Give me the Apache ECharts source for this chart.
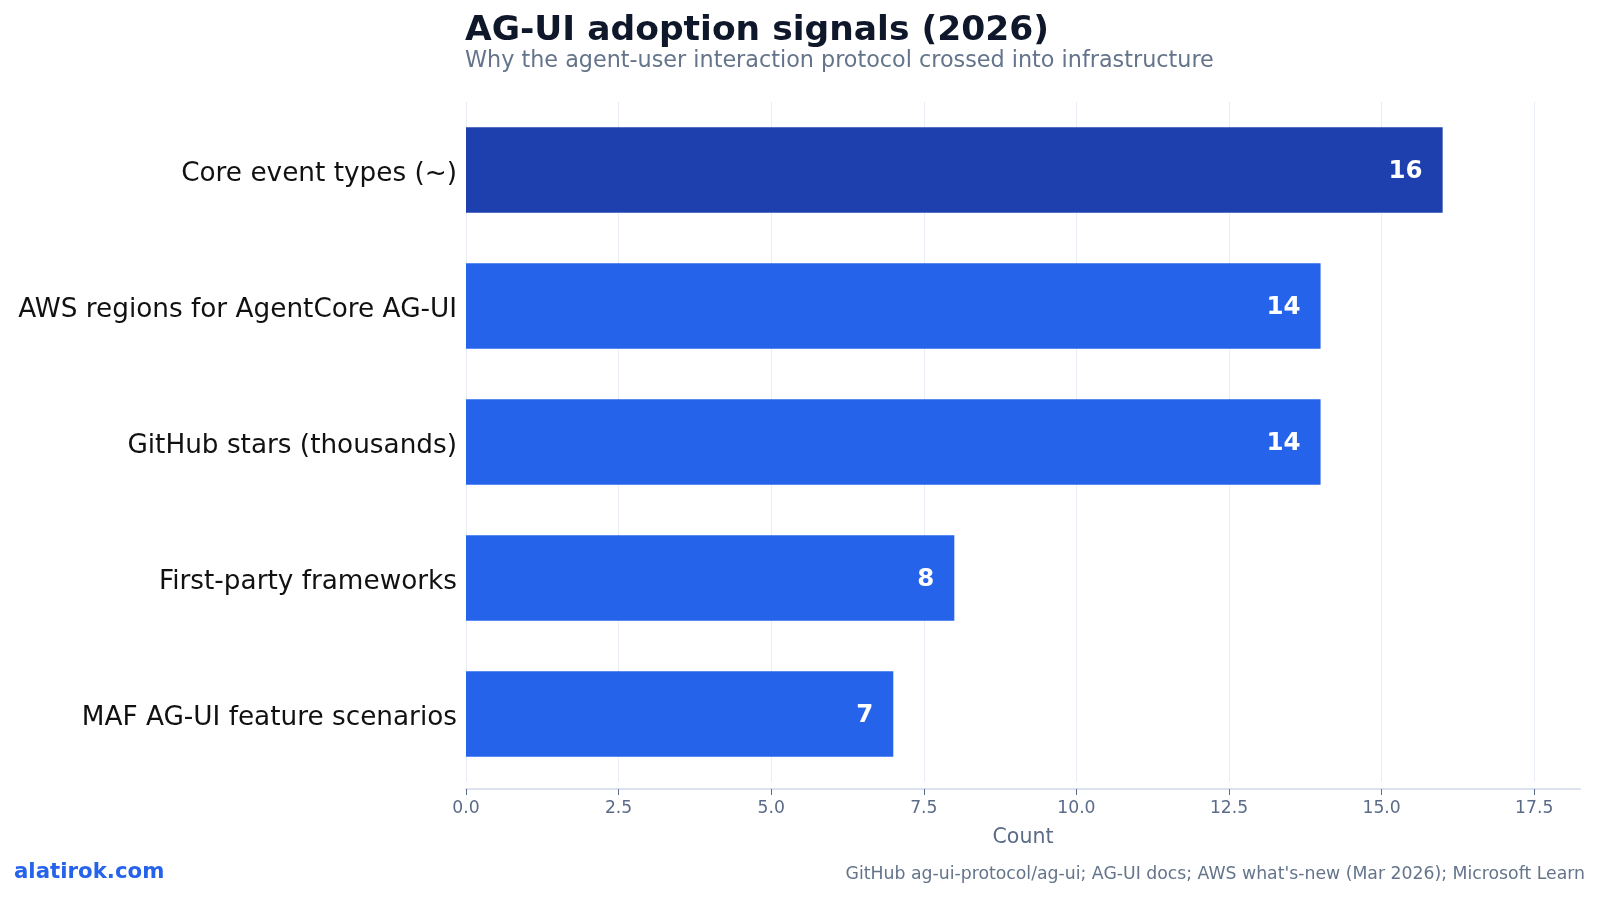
<!DOCTYPE html>
<html>
<head>
<meta charset="utf-8">
<script src="https://cdn.jsdelivr.net/npm/echarts@6/dist/echarts.min.js"></script>
<style>
  html, body { margin: 0; padding: 0; background: #fff; }
  #chart { width: 1600px; height: 899px; }
</style>
</head>
<body>
<div id="chart"></div>
<script>
// data, top to bottom as drawn
const categories = [
  "Core event types (~)",
  "AWS regions for AgentCore AG-UI",
  "GitHub stars (thousands)",
  "First-party frameworks",
  "MAF AG-UI feature scenarios",
];
const counts = [16, 14, 14, 8, 7];
const highlight = [true, false, false, false, false];
const xTicks = [0, 2.5, 5, 7.5, 10, 12.5, 15, 17.5];

const chart = echarts.init(document.getElementById("chart"));
const font = "DejaVu Sans";

chart.setOption({
  animation: false,
  textStyle: { fontFamily: font },
  title: [
    {
      text: "AG-UI adoption signals (2026)",
      left: 460, top: 9,
      textStyle: { fontFamily: font, fontSize: 34.5, fontWeight: "bold", color: "#0f172a" },
    },
    {
      text: "Why the agent-user interaction protocol crossed into infrastructure",
      left: 460, top: 45,
      textStyle: { fontFamily: font, fontSize: 22.3, fontWeight: "normal", color: "#64748b" },
    },
  ],
  graphic: [
    {
      type: "text", left: 14, top: 862,
      style: { text: "alatirok.com", fontFamily: font, fontSize: 21.3, fontWeight: "bold", fill: "#2563eb" },
    },
    {
      type: "text", right: 15, top: 866,
      style: {
        text: "GitHub ag-ui-protocol/ag-ui; AG-UI docs; AWS what's-new (Mar 2026); Microsoft Learn",
        fontFamily: font, fontSize: 17.3, fill: "#64748b",
      },
    },
  ],
  grid: { left: 466, right: 20, top: 102, bottom: 117 },
  xAxis: {
    type: "value",
    min: 0,
    max: 18.25,
    offset: 7,
    name: "Count",
    nameLocation: "middle",
    nameGap: 38,
    nameTextStyle: { fontSize: 20.5, color: "#5b6b88" },
    axisLine: { show: true, lineStyle: { color: "#dde3ec", width: 2 } },
    axisTick: { show: true, length: 6, customValues: xTicks, lineStyle: { color: "#5b6b88" } },
    axisLabel: {
      customValues: xTicks,
      fontSize: 17.2, color: "#5b6b88", margin: 11,
      formatter: (v) => v.toFixed(1),
    },
    splitLine: { show: true, lineStyle: { color: "#e9edf5", width: 1 } },
  },
  yAxis: {
    type: "category",
    data: categories,
    inverse: true,
    axisLine: { show: false },
    axisTick: { show: false },
    axisLabel: {
      margin: 9,
      formatter: (v) => "{c|" + v + "}",
      rich: { c: { fontSize: 26.3, color: "#111111", padding: [8, 0, 0, 0] } },
    },
  },
  series: [
    {
      type: "bar",
      data: counts.map((v, i) => ({
        value: v,
        itemStyle: { color: highlight[i] ? "#1e40af" : "#2563eb" },
      })),
      barCategoryGap: "37%",
      label: {
        show: true,
        position: "insideRight",
        distance: 20,
        offset: [0, 2],
        color: "#ffffff",
        fontSize: 24.5,
        fontWeight: "bold",
      },
    },
  ],
});
</script>
</body>
</html>
